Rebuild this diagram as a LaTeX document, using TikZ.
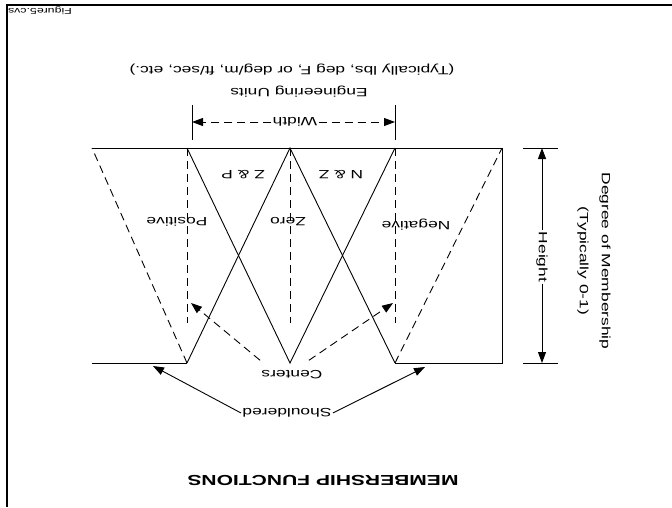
\documentclass[tikz,border=0pt]{standalone}
\usepackage{graphicx}
\usepackage{fontspec}
\newfontfamily\chartfont{Liberation Sans}
\usetikzlibrary{arrows.meta}
\newcommand{\widetext}[1]{\scalebox{1.45}[1]{#1}}

\begin{document}
\begin{tikzpicture}[
x=1pt, y=-1pt, line width=0.9pt,
flipnode/.style={rotate=180, inner sep=1pt, align=center, font=\chartfont\fontsize{12}{22}\selectfont},
sidenode/.style={rotate=-90, inner sep=1pt, align=center, font=\chartfont\fontsize{12}{22}\selectfont},
dashline/.style={dash pattern=on 8pt off 5pt},
pointer/.style={-{Triangle[length=11pt, width=8pt]}},
]
\fill[white] (0,0) rectangle (672,507);
\useasboundingbox (0,0) rectangle (672,507);

%Frame
\draw[line width=1.6pt] (7,507) -- (7,5) -- (672,5);
\node[flipnode, font=\chartfont\fontsize{8.5}{9}\selectfont] (fname) at (40,11) {\widetext{Figure5.cvs}};

%Corner points and centers
\coordinate (tl) at (92,148);
\coordinate (tr) at (502,148);
\coordinate (br) at (502,363);
\coordinate (bl) at (92,363);
\coordinate (cp) at (187,363);
\coordinate (cz) at (290,363);
\coordinate (cn) at (395,363);
\coordinate (tp) at (187,148);
\coordinate (tz) at (290,148);
\coordinate (tn) at (395,148);

%Lines
\draw (tl) -- (tr) -- (br) -- (cn);
\draw (bl) -- (cp);
\draw (cp) -- (tz) -- (cn);
\draw (tp) -- (cz) -- (tn);
\draw[dashline] (cp) -- (tl);
\draw[dashline] (cn) -- (tr);
\foreach \x in {187,290,395}
  \draw[dashline] (\x,148) -- (\x,323);

%Labels
\node[flipnode] (pos)  at (177,222) {\widetext{Positive}};
\node[flipnode] (zero) at (288,222) {\widetext{Zero}};
\node[flipnode] (neg)  at (416,225) {\widetext{Negative}};
\node[flipnode] (zp)   at (243,175) {\widetext{Z \& P}};
\node[flipnode] (nz)   at (341,175) {\widetext{N \& Z}};

%Centers (node is turned, so its south side faces up)
\node[flipnode] (ctr) at (292,375) {\widetext{Centers}};
\coordinate (cpa) at (191,303);
\coordinate (cna) at (393,303);
\draw[dashline, pointer] ([yshift=9pt]ctr.south east) -- (cpa);
\draw[dashline, pointer] ([xshift=-15pt, yshift=9pt]ctr.south west) -- (cna);

%Shoulders
\node[flipnode] (sh) at (287,413) {\widetext{Shouldered}};
\coordinate (sla) at (153,366);
\coordinate (sra) at (425,367);
\draw[pointer] (sh.east) -- (sla);
\draw[pointer] (sh.west) -- (sra);

%Width
\draw (192,105) -- (192,140);
\draw (395,105) -- (395,140);
\coordinate (wl) at (192,122);
\coordinate (wr) at (395,122);
\node[flipnode, fill=white] (wd) at (295,122) {\widetext{Width}};
\draw[dashline, pointer] (wd) -- (wl);
\draw[dashline, pointer] (wd) -- (wr);
\node[flipnode] (units) at (299,92) {\widetext{Engineering Units}};
\node[flipnode] (typ)   at (292,70) {\widetext{(Typically lbs, deg F, or deg/m, ft/sec, etc.)}};

%Height
\draw (523,148) -- (558,148);
\draw (523,363) -- (558,363);
\coordinate (hu) at (542,148);
\coordinate (hd) at (542,363);
\node[sidenode, fill=white] (ht) at (542,257) {\widetext{Height}};
\draw[pointer] (ht) -- (hu);
\draw[pointer] (ht) -- (hd);
\node[sidenode] (deg) at (594,261) {\widetext{Degree of Membership}\\\widetext{(Typically 0-1)}};

%Title
\node[flipnode, font=\chartfont\bfseries\fontsize{14.5}{16}\selectfont] (title) at (323,480) {\widetext{MEMBERSHIP FUNCTIONS}};
\end{tikzpicture}
\end{document}
